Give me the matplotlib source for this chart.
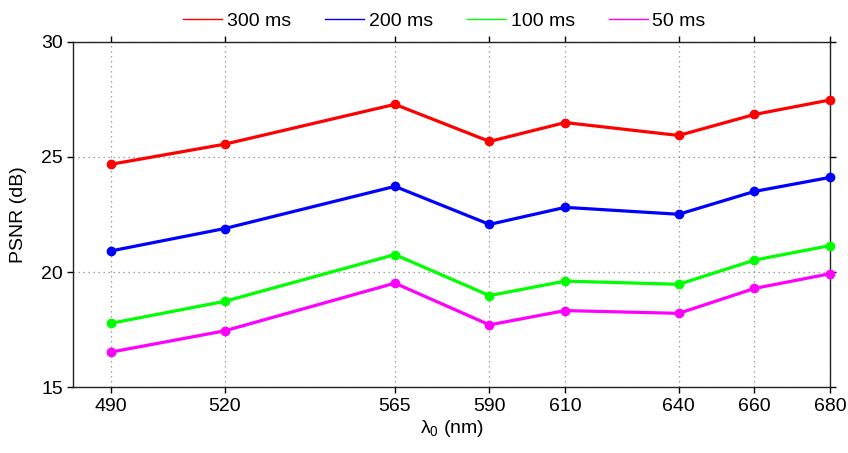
import matplotlib
matplotlib.use('Agg')
import matplotlib.pyplot as plt

plt.rcParams['font.family'] = ['Liberation Sans', 'DejaVu Sans']
plt.rcParams['mathtext.fontset'] = 'custom'
plt.rcParams['mathtext.rm'] = 'Liberation Sans'
plt.rcParams['mathtext.it'] = 'Liberation Sans'

# wavelengths (nm)
wavelengths = [490, 520, 565, 590, 610, 640, 660, 680]

# PSNR (dB) per exposure time
psnr_300 = [24.68, 25.55, 27.28, 25.67, 26.49, 25.93, 26.84, 27.47]
psnr_200 = [20.92, 21.89, 23.72, 22.07, 22.81, 22.51, 23.50, 24.11]
psnr_100 = [17.78, 18.73, 20.76, 18.98, 19.61, 19.47, 20.52, 21.15]
psnr_50 = [16.53, 17.45, 19.52, 17.71, 18.33, 18.21, 19.29, 19.93]

labels = ['300 ms', '200 ms', '100 ms', '50 ms']
colors = ['#ff0000', '#0000ff', '#00ff00', '#ff00ff']
series = [psnr_300, psnr_200, psnr_100, psnr_50]

fig = plt.figure(figsize=(8.48, 4.53), dpi=100)
ax = fig.add_axes([0.0864, 0.145, 0.8924, 0.763])

for vals, lab, col in zip(series, labels, colors):
    ax.plot(wavelengths, vals, '-o', color=col, linewidth=2.3,
            markersize=6, label=lab, clip_on=False, zorder=3)

ax.set_xlim(480, 680)
ax.set_ylim(15, 30)
ax.set_xticks(wavelengths)
ax.set_yticks([15, 20, 25, 30])
ax.grid(True, color='#888888', linestyle=(0, (1, 3)), linewidth=0.9)
ax.tick_params(direction='out', length=4, width=1, labelsize=14,
               top=True, right=True, labeltop=False, labelright=False)
for sp in ax.spines.values():
    sp.set_linewidth(1)
    sp.set_color('#222222')

ax.set_xlabel(r'$\lambda_0$ (nm)', fontsize=14, labelpad=2)
ax.set_ylabel('PSNR (dB)', fontsize=14, labelpad=10)

handles = [plt.Line2D([], [], color=c, linewidth=1) for c in colors]
fig.legend(handles, labels, loc='upper center', bbox_to_anchor=(0.524, 1.012),
           ncol=4, frameon=False, fontsize=14, handlelength=2.0,
           handletextpad=0.25, columnspacing=1.75)

plt.savefig('out.png', dpi=100)
